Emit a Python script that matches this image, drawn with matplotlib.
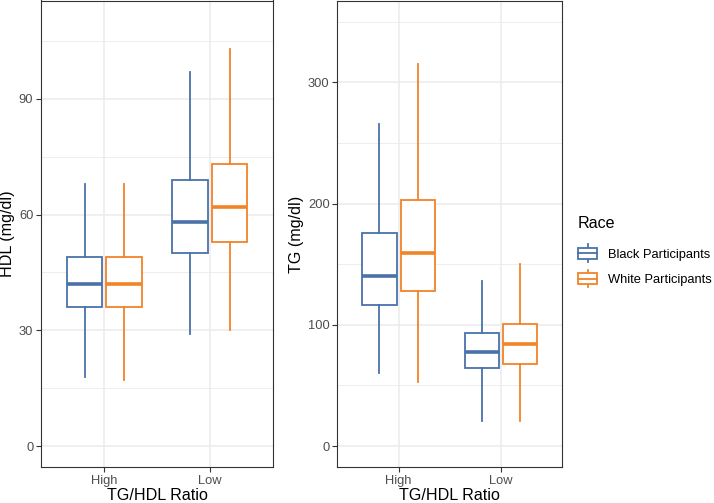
import matplotlib
matplotlib.use("Agg")
import matplotlib.pyplot as plt
from matplotlib.legend_handler import HandlerBase
from matplotlib.patches import Rectangle, Patch
from matplotlib.lines import Line2D
from matplotlib.ticker import MultipleLocator

plt.rcParams['font.family'] = ['Liberation Sans', 'DejaVu Sans']

categories = ["High", "Low"]
groups = ["Black Participants", "White Participants"]
colors = ["#4A72A8", "#F28428"]

# HDL: [whislo, q1, med, q3, whishi] per group per category
hdl_black = [[18, 36, 42, 49, 68], [29, 50, 58, 69, 97]]
hdl_white = [[17, 36, 42, 49, 68], [30, 53, 62, 73, 103]]
# TG
tg_black = [[60, 116, 140, 176, 266], [21, 64, 78, 93, 136]]
tg_white = [[53, 128, 159, 203, 315], [21, 68, 84, 101, 150]]

W, H = 714, 503
fig = plt.figure(figsize=(W/100, H/100), dpi=100)

def px_axes(x0, x1, y0, y1):
    return fig.add_axes([x0/W, 1 - y1/H, (x1-x0)/W, (y1-y0)/H])

ax1 = px_axes(41, 273, 0.5, 467.3)
ax2 = px_axes(337.3, 562.3, 0.5, 467.3)

def make_stats(vals):
    lo, q1, med, q3, hi = vals
    return dict(whislo=lo, q1=q1, med=med, q3=q3, whishi=hi, fliers=[])

def draw(ax, black, white, ylim, major, ylabel):
    for gi, (data, col) in enumerate(zip([black, white], colors)):
        offset = -0.1875 if gi == 0 else 0.1875
        stats = [make_stats(v) for v in data]
        pos = [i + 1 + offset for i in range(len(categories))]
        ax.bxp(stats, positions=pos, widths=0.3375, showfliers=False, showcaps=False,
               patch_artist=True,
               boxprops=dict(facecolor='white', edgecolor=col, linewidth=1.3),
               whiskerprops=dict(color=col, linewidth=1.3),
               medianprops=dict(color=col, linewidth=2.6, solid_capstyle='butt'),
               zorder=3)
    ax.set_xlim(0.4, 2.6)
    ax.set_ylim(*ylim)
    ax.set_xticks([1, 2])
    ax.set_xticklabels(categories)
    ax.yaxis.set_major_locator(MultipleLocator(major))
    ax.yaxis.set_minor_locator(MultipleLocator(major/2))
    ax.grid(True, which='major', color='#EBEBEB', linewidth=1.1, zorder=0)
    ax.grid(True, which='minor', axis='y', color='#EBEBEB', linewidth=0.6, zorder=0)
    ax.set_axisbelow(True)
    ax.tick_params(which='minor', length=0)
    ax.tick_params(which='major', length=3.5, width=0.8, color='#333333',
                   labelcolor='#4D4D4D', labelsize=9.3, pad=2)
    for s in ax.spines.values():
        s.set_color('#333333')
        s.set_linewidth(0.8)
    ax.set_xlabel("TG/HDL Ratio", fontsize=11.6, labelpad=1)
    ax.set_ylabel(ylabel, fontsize=11.6, labelpad=3)

draw(ax1, hdl_black, hdl_white, (-5.5, 115.5), 30, "HDL (mg/dl)")
draw(ax2, tg_black, tg_white, (-17.5, 367.5), 100, "TG (mg/dl)")

class BoxKeyHandler(HandlerBase):
    def create_artists(self, legend, orig_handle, xdescent, ydescent, width, height, fontsize, trans):
        col = orig_handle.get_edgecolor()
        cx = -xdescent + width/2
        bw = width
        bh = height*0.95
        by = -ydescent + (height - bh)/2
        stub = height*0.33
        rect = Rectangle((cx - bw/2, by), bw, bh, facecolor='white', edgecolor=col,
                         linewidth=1.3, transform=trans)
        top = Line2D([cx, cx], [by + bh, by + bh + stub], color=col, linewidth=1.3, transform=trans)
        bot = Line2D([cx, cx], [by - stub, by], color=col, linewidth=1.3, transform=trans)
        med = Line2D([cx - bw/2, cx + bw/2], [by + bh/2, by + bh/2], color=col, linewidth=1.3, transform=trans)
        return [top, bot, rect, med]

handles = [Patch(facecolor='white', edgecolor=c) for c in colors]
leg = fig.legend(handles, groups, handler_map={Patch: BoxKeyHandler()},
                 loc='upper left', bbox_to_anchor=(578/W, 1 - 216/H),
                 frameon=False, fontsize=9.3, title="Race", title_fontsize=11.6,
                 handlelength=1.5, handleheight=0.95, handletextpad=0.85,
                 labelspacing=0.95, borderaxespad=0, borderpad=0)
leg._legend_box.align = "left"
leg._legend_box.sep = 12

fig.savefig("out.png", dpi=100)
